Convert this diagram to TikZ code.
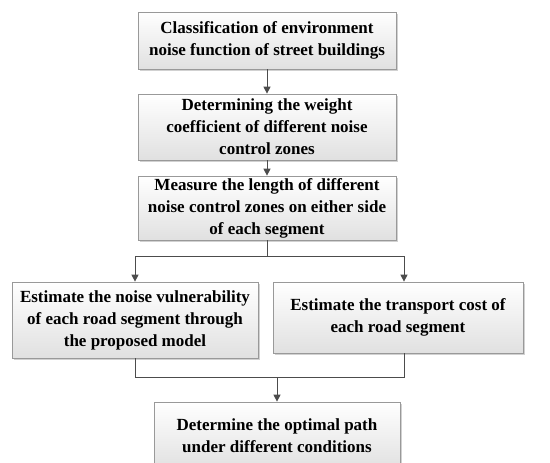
\documentclass[tikz,border=0pt]{standalone}
\usepackage{fontspec}
\setmainfont{Liberation Serif}
\usetikzlibrary{arrows.meta,shadows}
\begin{document}
\begin{tikzpicture}[x=1pt,y=-1pt,
    stepbox/.style={draw=black!40, line width=0.7pt, top color=white, bottom color=black!12,
      drop shadow={shadow xshift=1.5pt, shadow yshift=-1.5pt, fill=black!30, opacity=0.6},
      align=center, font=\fontsize{17}{22}\selectfont\bfseries, inner sep=0pt},
    link/.style={draw=black!70, line width=1pt},
    arr/.style={link, -{Triangle[length=7pt,width=7pt]}}]
  \useasboundingbox (0,0) rectangle (550,463);
  \clip (0,0) rectangle (550,463);
  % main column
  \node[stepbox, minimum width=258pt, minimum height=57pt] (classify) at (267,40.5)
    {Classification of environment\\noise function of street buildings};
  \node[stepbox, minimum width=258pt, minimum height=66pt] (weight) at (267,127)
    {Determining the weight\\coefficient of different noise\\control zones};
  \node[stepbox, minimum width=258pt, minimum height=64pt] (measure) at (267,208)
    {Measure the length of different\\noise control zones on either side\\of each segment};
  % two branches
  \node[stepbox, minimum width=246pt, minimum height=76pt] (vuln) at (135,320)
    {Estimate the noise vulnerability\\of each road segment through\\the proposed model};
  \node[stepbox, minimum width=250pt, minimum height=71pt] (cost) at (398,317.5)
    {Estimate the transport cost of\\each road segment};
  % result
  \node[stepbox, minimum width=246pt, minimum height=68pt] (optimal) at (277,436)
    {Determine the optimal path\\under different conditions};
  % connectors
  \draw[arr] (classify) -- (weight);
  \draw[arr] (weight) -- (measure);
  \coordinate (split) at (267,256);
  \coordinate (costin) at (404,256);
  \draw[link] (measure.south) -- (split);
  \draw[arr] (split) -| (vuln.north);
  \draw[arr] (split) -- (costin) -- (costin |- cost.north);
  \coordinate (merge) at (277,377);
  \draw[link] (vuln.south) |- (merge);
  \draw[link] (costin |- cost.south) |- (merge);
  \draw[arr] (merge) -- (optimal);
\end{tikzpicture}
\end{document}
